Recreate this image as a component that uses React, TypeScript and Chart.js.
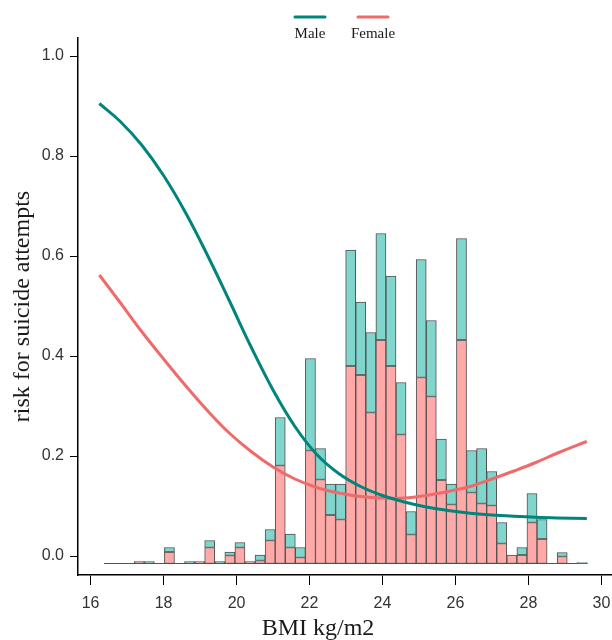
import React, { useEffect, useRef } from 'react';
import { Chart, registerables } from 'chart.js';

Chart.register(...registerables);

// Histogram bins (BMI centres)
const binCenters = [
  16.505, 16.781, 17.057, 17.333, 17.609, 17.885, 18.161, 18.437, 18.713, 18.989,
  19.265, 19.541, 19.817, 20.093, 20.369, 20.645, 20.921, 21.197, 21.473, 21.749,
  22.025, 22.301, 22.577, 22.853, 23.129, 23.405, 23.681, 23.957, 24.233, 24.509,
  24.785, 25.061, 25.337, 25.613, 25.889, 26.165, 26.441, 26.717, 26.993, 27.269,
  27.545, 27.821, 28.097, 28.373, 28.649, 28.925, 29.201, 29.477,
];
const binWidth = 0.276;
const histBase = -0.015;

// top of the female (pink) part of each bin
const femaleTop = [
  -0.015, -0.015, -0.015, -0.011, -0.015, -0.015, 0.008, -0.015, -0.015, -0.011,
  0.017, -0.015, 0.001, 0.017, -0.011, -0.009, 0.031, 0.181, 0.017, -0.003,
  0.211, 0.153, 0.082, 0.073, 0.38, 0.362, 0.287, 0.432, 0.38, 0.243,
  0.043, 0.357, 0.319, 0.152, 0.103, 0.432, 0.127, 0.105, 0.101, 0.025,
  0.002, 0.002, 0.067, 0.034, -0.015, -0.001, -0.015, -0.015,
];
// top of the whole bin (male part stacked on top, teal)
const allTop = [
  -0.015, -0.015, -0.015, -0.011, -0.011, -0.015, 0.017, -0.015, -0.011, -0.011,
  0.031, -0.011, 0.008, 0.027, -0.011, 0.002, 0.053, 0.277, 0.044, 0.017,
  0.395, 0.215, 0.144, 0.144, 0.612, 0.508, 0.447, 0.645, 0.56, 0.347,
  0.089, 0.593, 0.471, 0.234, 0.144, 0.635, 0.211, 0.215, 0.169, 0.067,
  0.002, 0.017, 0.125, 0.073, -0.015, 0.007, -0.015, -0.013,
];

const curveX = [16.24, 16.8, 17.4, 18.0, 18.6, 19.2, 19.8, 20.4, 21.0, 21.6, 22.2, 22.8, 23.4, 24.0, 24.6, 25.2, 25.8, 26.4, 27.0, 27.6, 28.2, 28.8, 29.6];
const maleCurveY = [0.905, 0.870, 0.822, 0.761, 0.687, 0.602, 0.511, 0.418, 0.332, 0.259, 0.203, 0.165, 0.139, 0.121, 0.108, 0.098, 0.091, 0.0855, 0.082, 0.0795, 0.0775, 0.0762, 0.075];
const femaleCurveY = [0.562, 0.508, 0.449, 0.394, 0.341, 0.291, 0.246, 0.209, 0.178, 0.154, 0.137, 0.126, 0.119, 0.116, 0.116, 0.121, 0.129, 0.139, 0.154, 0.170, 0.187, 0.206, 0.229];

const xTicks = [16, 18, 20, 22, 24, 26, 28, 30];
const yTicks = [0, 0.2, 0.4, 0.6, 0.8, 1.0];
const legendLabels = ['Male', 'Female'];
const xTitle = 'BMI kg/m2';
const yTitle = 'risk for suicide attempts';

const MALE_LINE = '#00857D';
const FEMALE_LINE = '#EE6B6B';
const MALE_BAR = '#80D5CC';
const FEMALE_BAR = '#FFAAA8';
const BAR_BORDER = '#4f4f4f';
const SERIF = '"Liberation Serif", "Times New Roman", serif';
const SANS = '"Liberation Sans", Arial, sans-serif';

const decorPlugin = {
  id: 'decor',
  afterDraw(chart: any) {
    const ctx = chart.ctx;
    const centers = [310, 373];
    const colors = [MALE_LINE, FEMALE_LINE];
    ctx.save();
    legendLabels.forEach((lab, i) => {
      ctx.strokeStyle = colors[i];
      ctx.lineWidth = 3;
      ctx.lineCap = 'round';
      ctx.beginPath();
      ctx.moveTo(centers[i] - 15, 17);
      ctx.lineTo(centers[i] + 15, 17);
      ctx.stroke();
      ctx.fillStyle = '#1a1a1a';
      ctx.font = '15px ' + SERIF;
      ctx.textAlign = 'center';
      ctx.textBaseline = 'middle';
      ctx.fillText(lab, centers[i], 34);
    });
    // x-axis title
    ctx.fillStyle = '#1a1a1a';
    ctx.font = '24px ' + SERIF;
    ctx.textAlign = 'center';
    ctx.textBaseline = 'alphabetic';
    ctx.fillText(xTitle, 318, 635);
    ctx.restore();
  },
};

export default function App() {
  const ref = useRef<HTMLCanvasElement | null>(null);
  useEffect(() => {
    if (!ref.current) return;
    const pink = binCenters.map((x, i) =>
      femaleTop[i] > histBase ? { x, y: [histBase, femaleTop[i]] } : { x, y: null }
    );
    const teal = binCenters.map((x, i) =>
      allTop[i] > femaleTop[i] ? { x, y: [femaleTop[i], allTop[i]] } : { x, y: null }
    );
    const baseLine = [
      { x: binCenters[0] - binWidth / 2, y: histBase },
      { x: binCenters[binCenters.length - 1] + binWidth / 2, y: histBase },
    ];
    const male = curveX.map((x, i) => ({ x, y: maleCurveY[i] }));
    const female = curveX.map((x, i) => ({ x, y: femaleCurveY[i] }));

    const chart = new Chart(ref.current, {
      type: 'bar',
      data: {
        datasets: [
          {
            type: 'line', label: 'Male', data: male, borderColor: MALE_LINE, borderWidth: 3,
            pointRadius: 0, tension: 0.4, order: 0,
          } as any,
          {
            type: 'line', label: 'Female', data: female, borderColor: FEMALE_LINE, borderWidth: 3,
            pointRadius: 0, tension: 0.4, order: 0,
          } as any,
          {
            type: 'line', label: 'base', data: baseLine, borderColor: '#555', borderWidth: 1,
            pointRadius: 0, order: 3,
          } as any,
          {
            type: 'bar', label: 'male bins', data: teal, backgroundColor: MALE_BAR,
            borderColor: BAR_BORDER, borderWidth: 1, borderSkipped: false,
            grouped: false, barPercentage: 1, categoryPercentage: 1, order: 1,
          } as any,
          {
            type: 'bar', label: 'female bins', data: pink, backgroundColor: FEMALE_BAR,
            borderColor: BAR_BORDER, borderWidth: 1, borderSkipped: false,
            grouped: false, barPercentage: 1, categoryPercentage: 1, order: 2,
          } as any,
        ],
      },
      options: {
        responsive: false,
        animation: false,
        devicePixelRatio: 1,
        layout: { padding: { top: 38, left: 0, right: 0, bottom: 0 } },
        plugins: { legend: { display: false }, tooltip: { enabled: false } },
        scales: {
          x: {
            type: 'linear',
            offset: false,
            min: 15.655,
            max: 30.29,
            afterBuildTicks: (s: any) => { s.ticks = xTicks.map((v) => ({ value: v })); },
            afterFit: (s: any) => { s.height = 65; s.paddingLeft = 0; s.paddingRight = 0; },
            grid: { display: true, drawOnChartArea: false, drawTicks: true, tickLength: 10, color: '#000', lineWidth: 1, offset: false },
            border: { display: true, color: '#000', width: 1.5 },
            ticks: {
              color: '#333', padding: 9, maxRotation: 0, autoSkip: false,
              font: { family: SANS, size: 16 },
              callback: (v: any) => String(v),
            },
            title: { display: false },
          },
          y: {
            type: 'linear',
            min: -0.038,
            max: 1.036,
            afterBuildTicks: (s: any) => { s.ticks = yTicks.map((v) => ({ value: v })); },
            afterFit: (s: any) => { s.width = 78; s.paddingTop = 0; s.paddingBottom = 0; },
            grid: { display: true, drawOnChartArea: false, drawTicks: true, tickLength: 8, color: '#000', lineWidth: 1 },
            border: { display: true, color: '#000', width: 1.5 },
            ticks: {
              color: '#333', padding: 6, autoSkip: false,
              font: { family: SANS, size: 16 },
              callback: (v: any) => Number(v).toFixed(1),
            },
            title: {
              display: true, text: yTitle, color: '#1a1a1a', padding: { top: 8, bottom: 0 },
              font: { family: SERIF, size: 24 },
            },
          },
        },
      },
      plugins: [decorPlugin],
    } as any);
    return () => chart.destroy();
  }, []);

  return (
    <div style={{ position: 'absolute', left: 0, top: 0, width: 612, height: 640, background: '#fff' }}>
      <canvas ref={ref} width={612} height={640} />
    </div>
  );
}
